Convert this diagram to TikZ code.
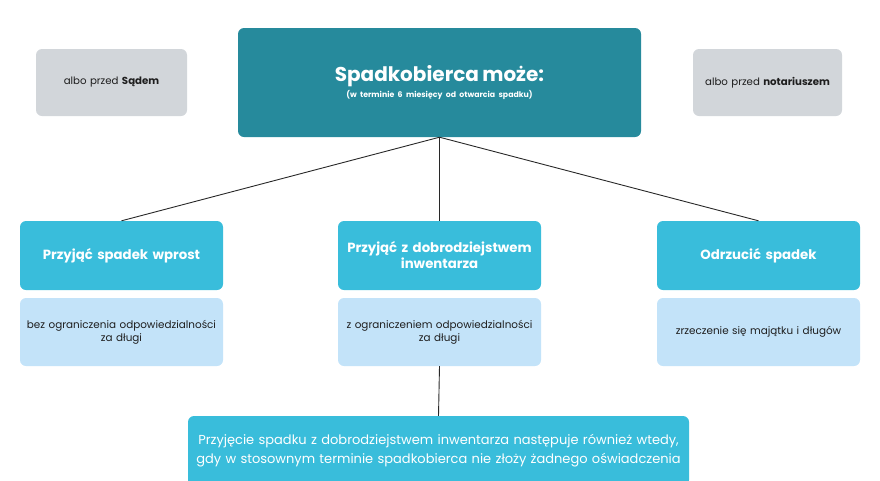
\documentclass[tikz,border=0pt]{standalone}
\usepackage{fontspec}
\setmainfont{Poppins}
\begin{document}
\begin{tikzpicture}[x=1pt,y=-1pt,
  box/.style={rounded corners=6pt, inner sep=0pt, align=center, text width=#1},
  box/.default=195pt,
  teal/.style={box=390pt, fill={rgb,255:red,38;green,138;blue,156}, text=white},
  mid/.style={box, fill={rgb,255:red,57;green,189;blue,219}, text=white, font=\fontsize{13.3}{16}\selectfont\bfseries},
  light/.style={box, fill={rgb,255:red,195;green,227;blue,249}, text={rgb,255:red,30;green,30;blue,30}, font=\fontsize{10.4}{13}\selectfont},
  gray/.style={box=140pt, fill={rgb,255:red,210;green,214;blue,218}, text={rgb,255:red,30;green,30;blue,30}, font=\fontsize{10.2}{12}\selectfont},
  conn/.style={draw={rgb,255:red,40;green,40;blue,40}, line width=0.9pt}]
\useasboundingbox (0,0) rectangle (880,480);
\node[teal, minimum width=403pt, minimum height=109pt] (top) at (439.5,82.5)
  {{\fontsize{20}{24}\selectfont\bfseries Spadkobierca może:}\\[2pt]{\fontsize{7.8}{9}\selectfont\bfseries (w terminie 6 miesięcy od otwarcia spadku)}};
\node[gray, minimum width=151pt, minimum height=67pt] (sad) at (111.5,82.5) {albo przed \textbf{Sądem}};
\node[gray, minimum width=149pt, minimum height=67pt] (not) at (767.5,82.5) {albo przed \textbf{notariuszem}};
\node[mid, minimum width=203pt, minimum height=69pt] (a) at (121.5,255.5) {Przyjąć spadek wprost};
\node[mid, minimum width=203pt, minimum height=69pt] (b) at (439.5,255.5) {Przyjąć z dobrodziejstwem\\inwentarza};
\node[mid, minimum width=203pt, minimum height=69pt] (c) at (758.5,255.5) {Odrzucić spadek};
\node[light, minimum width=203pt, minimum height=68pt] (a2) at (121.5,332) {bez ograniczenia odpowiedzialności\\za długi};
\node[light, minimum width=203pt, minimum height=68pt] (b2) at (439.5,332) {z ograniczeniem odpowiedzialności\\za długi};
\node[light, minimum width=203pt, minimum height=68pt] (c2) at (758.5,332) {zrzeczenie się majątku i długów};
\node[box=490pt, fill={rgb,255:red,57;green,189;blue,219}, text=white, font=\fontsize{13}{19}\selectfont, minimum width=501pt, minimum height=70pt] (d) at (438.5,451)
  {Przyjęcie spadku z dobrodziejstwem inwentarza następuje również wtedy,\\gdy w stosownym terminie spadkobierca nie złoży żadnego oświadczenia};
\draw[conn] (top.south) -- (a.north);
\draw[conn] (top.south) -- (b.north);
\draw[conn] (top.south) -- (c.north);
\draw[conn] (b2.south) -- (d.north);
\end{tikzpicture}
\end{document}
